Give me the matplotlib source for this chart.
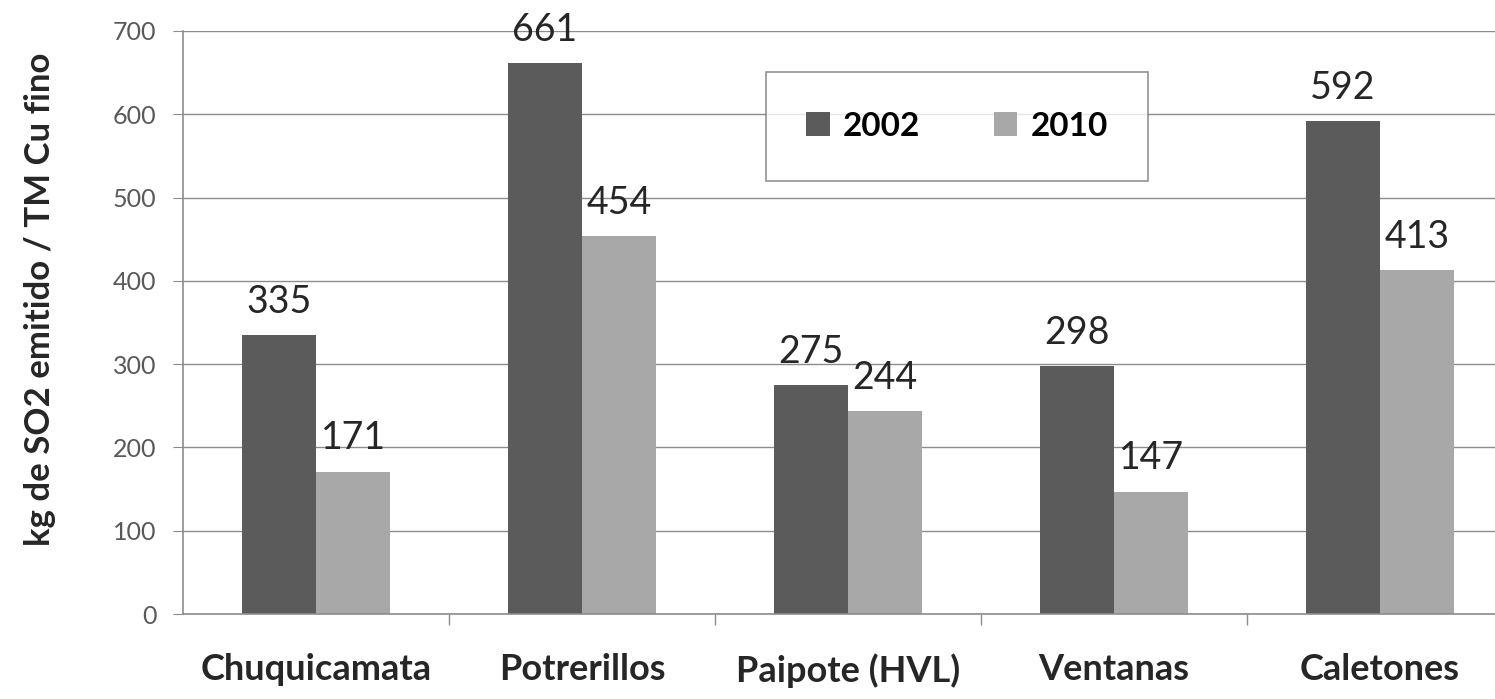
import numpy as np
import matplotlib.pyplot as plt

plt.rcParams["font.family"] = ["Lato", "DejaVu Sans"]

smelters = ["Chuquicamata", "Potrerillos", "Paipote (HVL)", "Ventanas", "Caletones"]
so2_2002 = [335, 661, 275, 298, 592]
so2_2010 = [171, 454, 244, 147, 413]
y_ticks = [0, 100, 200, 300, 400, 500, 600, 700]

dark = "#5b5b5b"
light = "#a8a8a8"
axis_grey = "#8c8c8c"

fig = plt.figure(figsize=(14.95, 6.99), dpi=100)
ax = fig.add_axes([183 / 1495, 85 / 699, 1 - 183 / 1495, 583 / 699])

x = np.arange(len(smelters))
w = 0.28
b1 = ax.bar(x - w / 2, so2_2002, w, color=dark, label="2002", zorder=2)
b2 = ax.bar(x + w / 2, so2_2010, w, color=light, label="2010", zorder=2)

for bars, vals in ((b1, so2_2002), (b2, so2_2010)):
    for rect, v in zip(bars, vals):
        ax.annotate(str(v), (rect.get_x() + rect.get_width() / 2, v),
                    xytext=(0, 11), textcoords="offset points",
                    ha="center", va="bottom", fontsize=27, color="#262626",
                    annotation_clip=False)

ax.set_ylim(0, 700)
ax.set_yticks(y_ticks)
ax.set_xlim(-0.5, (1495 - 183) / 266 - 0.5)
ax.yaxis.grid(True, color=axis_grey, linewidth=1.0, zorder=0)
ax.set_axisbelow(True)

# category boundary ticks on the x axis
ax.set_xticks(x[:-1] + 0.5)
ax.set_xticklabels([])
ax.set_xticks(x, minor=True)
ax.set_xticklabels(smelters, minor=True, fontsize=26, fontweight="bold", color="#262626")
ax.tick_params(axis="x", which="minor", length=0, pad=28)
ax.tick_params(axis="x", which="major", length=8, color=axis_grey, width=1)
ax.tick_params(axis="y", length=7, color=axis_grey, labelsize=18, labelcolor="#595959", pad=12)

for side in ("top", "right"):
    ax.spines[side].set_visible(False)
for side in ("left", "bottom"):
    ax.spines[side].set_color(axis_grey)
    ax.spines[side].set_linewidth(1.2)

ax.set_ylabel("kg de SO2 emitido / TM Cu fino", fontsize=25, fontweight="bold",
              color="#262626")
ax.yaxis.set_label_coords(-0.097, 0.54)

leg = ax.legend(loc="center", bbox_to_anchor=((957 - 183) / 1312, (614 - 126) / 583),
                ncol=2, fancybox=False, frameon=True, edgecolor="#777777",
                prop={"size": 24, "weight": "bold"}, handlelength=0.7, handleheight=0.7,
                columnspacing=2.2, borderpad=1.2, handletextpad=0.4,
                borderaxespad=0)
leg.get_frame().set_linewidth(1.2)
leg.set_zorder(5)

fig.savefig("out.png", dpi=100)
